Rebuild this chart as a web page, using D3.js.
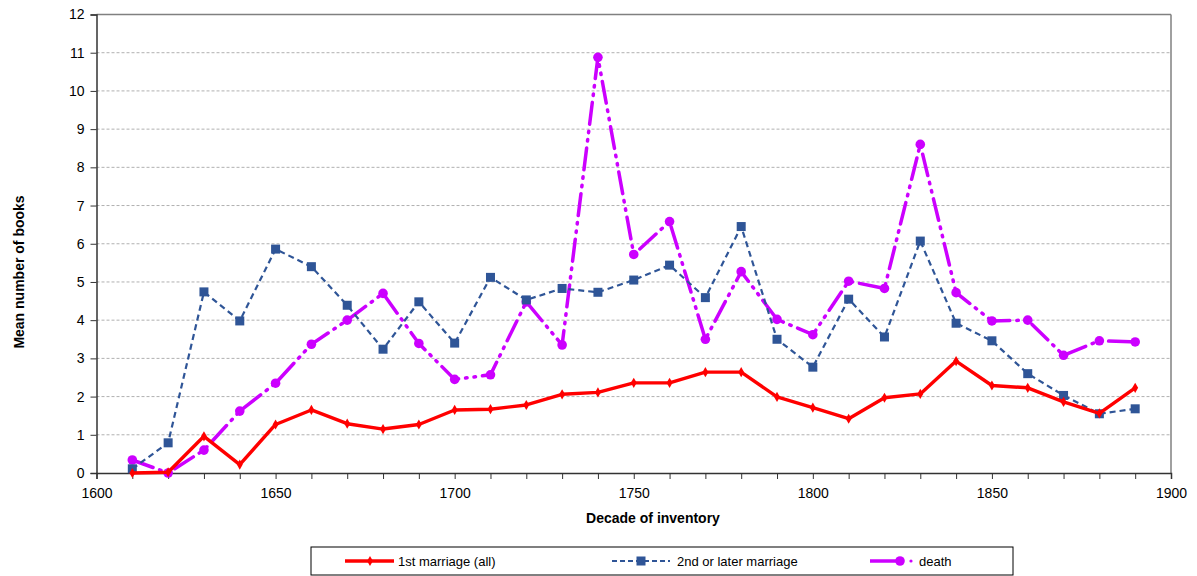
<!DOCTYPE html>
<html><head><meta charset="utf-8">
<script src="https://cdn.jsdelivr.net/npm/d3@7"></script>
<style>body{margin:0;background:#fff}svg{display:block;font-family:"Liberation Sans",Arial,sans-serif}</style>
</head><body><svg id="c" width="1197" height="576"></svg>
<script>
const decades = [1610,1620,1630,1640,1650,1660,1670,1680,1690,1700,1710,1720,1730,1740,1750,1760,1770,1780,1790,1800,1810,1820,1830,1840,1850,1860,1870,1880,1890];
const firstMarriage = [0,0.02,0.96,0.22,1.27,1.65,1.29,1.15,1.27,1.65,1.67,1.78,2.06,2.11,2.36,2.36,2.64,2.64,1.99,1.71,1.42,1.97,2.07,2.93,2.29,2.23,1.86,1.56,2.23];
const laterMarriage = [0.11,0.79,4.74,3.98,5.86,5.4,4.39,3.24,4.48,3.4,5.12,4.53,4.83,4.73,5.05,5.44,4.59,6.45,3.5,2.77,4.55,3.56,6.07,3.92,3.46,2.6,2.03,1.55,1.68];
const death = [0.34,0,0.6,1.62,2.35,3.37,4.0,4.7,3.39,2.45,2.57,4.48,3.35,10.88,5.72,6.58,3.5,5.27,4.02,3.62,5.02,4.83,8.6,4.72,3.98,4.0,3.08,3.46,3.43];
const seriesNames = ["1st marriage (all)","2nd or later marriage","death"];
const yTicks = [0,1,2,3,4,5,6,7,8,9,10,11,12];
const xTicks = [1600,1650,1700,1750,1800,1850,1900];

const svg = d3.select("#c");
const L=96.5, R=1171, T=14.5, B=473;
const x = d3.scaleLinear().domain([1600,1900]).range([L,R]);
const y = d3.scaleLinear().domain([0,12]).range([B,T]);

// gridlines
svg.append("g").selectAll("line").data(yTicks.slice(1,-1)).join("line")
  .attr("x1",L).attr("x2",R).attr("y1",d=>y(d)).attr("y2",d=>y(d))
  .attr("stroke","#b0b0b0").attr("stroke-width",1).attr("stroke-dasharray","3,2");
// frame top/right
svg.append("line").attr("x1",L).attr("x2",R).attr("y1",y(12)).attr("y2",y(12)).attr("stroke","#808080").attr("stroke-width",1.5);
svg.append("line").attr("x1",R).attr("x2",R).attr("y1",T).attr("y2",B).attr("stroke","#808080").attr("stroke-width",1.5);

// axes
const yAxis = svg.append("g").attr("transform",`translate(${L},0)`)
  .call(d3.axisLeft(y).tickValues(yTicks).tickSize(6).tickPadding(6));
const xAxis = svg.append("g").attr("transform",`translate(0,${B})`)
  .call(d3.axisBottom(x).tickValues(d3.range(1600,1901,10)).tickSize(6).tickPadding(6)
    .tickFormat(d=>xTicks.includes(d)?d:""));
[yAxis,xAxis].forEach(a=>{
  a.select(".domain").attr("stroke","#333").attr("stroke-width",1.5);
  a.selectAll(".tick line").attr("stroke","#333");
  a.selectAll("text").attr("font-size",14).attr("fill","#000").attr("font-family","'Liberation Sans',Arial,sans-serif");
});
xAxis.selectAll("text").attr("dy","0.9em");

// axis titles
svg.append("text").attr("x",653).attr("y",523).attr("text-anchor","middle")
  .attr("font-size",14).attr("font-weight","bold").text("Decade of inventory");
svg.append("text").attr("transform",`translate(24,272) rotate(-90)`).attr("text-anchor","middle")
  .attr("font-size",14).attr("font-weight","bold").text("Mean number of books");

const line = d3.line().x((d,i)=>x(decades[i])).y(d=>y(d));
const RED="#ff0000", BLUE="#2f5597", MAG="#cc00ff";

// death
svg.append("path").datum(death).attr("d",line).attr("fill","none").attr("stroke",MAG)
  .attr("stroke-width",3.5).attr("stroke-dasharray","22,7,1.5,7,1.5,7").attr("stroke-linecap","round");
svg.append("g").selectAll("circle").data(death).join("circle")
  .attr("cx",(d,i)=>x(decades[i])).attr("cy",d=>y(d)).attr("r",4.8).attr("fill",MAG);

// later marriage
svg.append("path").datum(laterMarriage).attr("d",line).attr("fill","none").attr("stroke",BLUE)
  .attr("stroke-width",2.2).attr("stroke-dasharray","6,4");
svg.append("g").selectAll("rect").data(laterMarriage).join("rect")
  .attr("x",(d,i)=>x(decades[i])-4.5).attr("y",d=>y(d)-4.5).attr("width",9).attr("height",9).attr("fill",BLUE);

// first marriage
svg.append("path").datum(firstMarriage).attr("d",line).attr("fill","none").attr("stroke",RED).attr("stroke-width",3.4).attr("stroke-linejoin","round");
const diamond = d3.symbol().type(d3.symbolDiamond).size(30);
svg.append("g").selectAll("path").data(firstMarriage).join("path")
  .attr("d",diamond).attr("transform",(d,i)=>`translate(${x(decades[i])},${y(d)})`).attr("fill",RED);

// legend
const lg = svg.append("g");
lg.append("rect").attr("x",311).attr("y",547).attr("width",702).attr("height",28).attr("fill","#fff").attr("stroke","#000").attr("stroke-width",1);
const ly = 561, fs = 13;
// item 1
lg.append("line").attr("x1",345).attr("x2",394).attr("y1",ly).attr("y2",ly).attr("stroke",RED).attr("stroke-width",3.4);
lg.append("path").attr("d",diamond).attr("transform",`translate(370,${ly})`).attr("fill",RED);
lg.append("text").attr("x",398).attr("y",ly+5).attr("font-size",fs).text(seriesNames[0]);
// item 2
lg.append("line").attr("x1",612).attr("x2",670).attr("y1",ly).attr("y2",ly).attr("stroke",BLUE).attr("stroke-width",2.2).attr("stroke-dasharray","5,3");
lg.append("rect").attr("x",641-4.5).attr("y",ly-4.5).attr("width",9).attr("height",9).attr("fill",BLUE);
lg.append("text").attr("x",677).attr("y",ly+5).attr("font-size",fs).text(seriesNames[1]);
// item 3
lg.append("line").attr("x1",870).attr("x2",898).attr("y1",ly).attr("y2",ly).attr("stroke",MAG).attr("stroke-width",3.5);
lg.append("circle").attr("cx",900).attr("cy",ly).attr("r",4.8).attr("fill",MAG);
lg.append("circle").attr("cx",911).attr("cy",ly).attr("r",1.6).attr("fill",MAG);
lg.append("text").attr("x",919).attr("y",ly+5).attr("font-size",fs).text(seriesNames[2]);
</script></body></html>
